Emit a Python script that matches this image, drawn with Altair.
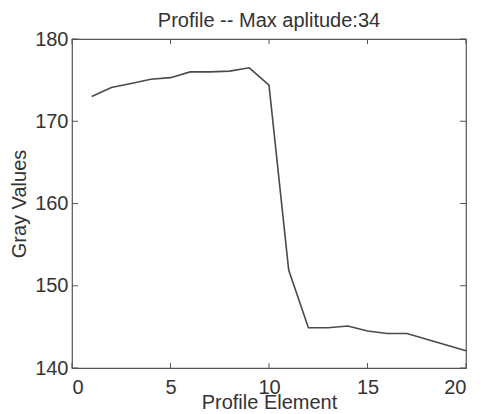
import altair as alt
import pandas as pd

elements = list(range(1, 21))
gray_values = [173.0, 174.1, 174.6, 175.1, 175.3, 176.0, 176.0, 176.1, 176.5, 174.4,
               151.9, 144.9, 144.9, 145.1, 144.5, 144.2, 144.2, 143.5, 142.8, 142.1]
x_ticks = [0, 5, 10, 15, 20]
y_ticks = [140, 150, 160, 170, 180]

df = pd.DataFrame({"x": elements, "y": gray_values})

FONT = "Liberation Sans"
TXT = "#333333"

xs = alt.Scale(domain=[0, 20], nice=False, zero=False)
ys = alt.Scale(domain=[140, 180], nice=False, zero=False)

line = alt.Chart(df).mark_line(color="#4a4a4a", strokeWidth=1.6).encode(
    x=alt.X("x:Q", scale=xs, title="Profile Element",
            axis=alt.Axis(values=x_ticks, domain=False, ticks=False, grid=False,
                          labelFontSize=20, labelFont=FONT, labelColor=TXT, labelPadding=9,
                          titleFontSize=20, titleFont=FONT, titleColor=TXT, titleFontWeight="normal",
                          titlePadding=-5)),
    y=alt.Y("y:Q", scale=ys, title="Gray Values",
            axis=alt.Axis(values=y_ticks, domain=False, ticks=False, grid=False,
                          labelFontSize=20, labelFont=FONT, labelColor=TXT, labelPadding=4,
                          titleFontSize=20, titleFont=FONT, titleColor=TXT, titleFontWeight="normal",
                          titlePadding=5)),
)

xt = pd.DataFrame({"v": x_ticks})
yt = pd.DataFrame({"v": y_ticks})
tick_len_y = 0.6
tick_len_x = 0.3
tick_color = "#555555"

bottom_ticks = alt.Chart(xt).mark_rule(color=tick_color, strokeWidth=1).encode(
    x=alt.X("v:Q", scale=xs), y=alt.datum(140, scale=ys), y2=alt.datum(140 + tick_len_y))
top_ticks = alt.Chart(xt).mark_rule(color=tick_color, strokeWidth=1).encode(
    x=alt.X("v:Q", scale=xs), y=alt.datum(180, scale=ys), y2=alt.datum(180 - tick_len_y))
left_ticks = alt.Chart(yt).mark_rule(color=tick_color, strokeWidth=1).encode(
    y=alt.Y("v:Q", scale=ys), x=alt.datum(0, scale=xs), x2=alt.datum(tick_len_x))
right_ticks = alt.Chart(yt).mark_rule(color=tick_color, strokeWidth=1).encode(
    y=alt.Y("v:Q", scale=ys), x=alt.datum(20, scale=xs), x2=alt.datum(20 - tick_len_x))

chart = alt.layer(bottom_ticks, top_ticks, left_ticks, right_ticks, line).properties(
    width=394, height=329,
    title=alt.Title("Profile -- Max aplitude:34", fontSize=20, font=FONT, color=TXT,
                    fontWeight="normal", offset=-2),
    autosize=alt.AutoSizeParams(type="none"),
    padding={"left": 64, "top": 31, "right": 7, "bottom": 46},
    background="white",
).configure_view(stroke="#555555", strokeWidth=1.2)

chart.save("out.html", embed_options={"renderer": "svg", "actions": False})
